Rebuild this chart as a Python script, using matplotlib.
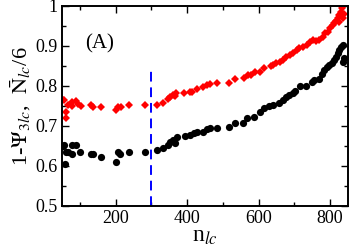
import matplotlib

matplotlib.use("Agg")

import matplotlib.pyplot as plt  # noqa: E402
from matplotlib.ticker import MultipleLocator  # noqa: E402

plt.rcParams["font.family"] = ["Liberation Serif", "DejaVu Serif"]
plt.rcParams["mathtext.fontset"] = "stix"

# red diamonds: 1 - psi_3lc
red_n = [51, 55, 61, 61, 66, 77, 77, 89, 95, 102, 130, 136, 158, 201, 207,
         215, 238, 283, 316, 331, 347, 353, 359, 365, 370, 391, 407, 414,
         428, 444, 455, 463, 483, 516, 533, 558, 570, 579, 591, 604, 616,
         635, 641, 649, 660, 667, 678, 688, 697, 706, 714, 725, 734, 744,
         751, 760, 770, 779, 786, 793, 800, 807, 812, 816, 821, 826, 826,
         830, 833, 837, 840, 836]
red_v = [0.767, 0.765, 0.736, 0.719, 0.752, 0.761, 0.750, 0.763, 0.755,
         0.751, 0.752, 0.747, 0.747, 0.740, 0.748, 0.747, 0.752, 0.752,
         0.752, 0.758, 0.767, 0.773, 0.777, 0.775, 0.782, 0.783, 0.786,
         0.786, 0.792, 0.798, 0.802, 0.805, 0.807, 0.808, 0.817, 0.819,
         0.8275, 0.8275, 0.836, 0.836, 0.844, 0.850, 0.853, 0.858, 0.861,
         0.865, 0.872, 0.8775, 0.883, 0.890, 0.894, 0.898, 0.9025, 0.911,
         0.915, 0.913, 0.915, 0.922, 0.932, 0.936, 0.944, 0.9525, 0.957,
         0.963, 0.969, 0.9775, 0.961, 0.986, 0.994, 1.0, 0.98, 0.969]

# black circles: N_lc / 6
blk_n = [52, 55, 58, 60, 66, 77, 77, 89, 100, 130, 136, 158, 200, 207, 212,
         238, 283, 316, 331, 347, 353, 359, 365, 371, 393, 407, 420, 428,
         444, 455, 465, 483, 516, 533, 557, 567, 588, 604, 616, 630, 639,
         658, 667, 676, 686, 695, 702, 716, 732, 749, 756, 769, 777, 783,
         790, 797, 805, 811, 817, 821, 826, 830, 835, 836, 840]
blk_v = [0.651, 0.652, 0.604, 0.636, 0.636, 0.652, 0.630, 0.652, 0.636,
         0.630, 0.630, 0.623, 0.611, 0.636, 0.630, 0.636, 0.636, 0.640,
         0.644, 0.652, 0.661, 0.665, 0.658, 0.672, 0.675, 0.6775, 0.682,
         0.686, 0.686, 0.692, 0.694, 0.694, 0.697, 0.707, 0.707, 0.720,
         0.723, 0.736, 0.744, 0.750, 0.7525, 0.758, 0.765, 0.772, 0.7775,
         0.783, 0.788, 0.800, 0.800, 0.811, 0.815, 0.817, 0.830, 0.840,
         0.847, 0.8525, 0.858, 0.865, 0.872, 0.882, 0.890, 0.898, 0.9025,
         0.861, 0.869]

n_cut = 300
cut_top = 0.84
y_ticks = [0.5, 0.6, 0.7, 0.8, 0.9, 1.0]
y_tick_labels = ["0.5", "0.6", "0.7", "0.8", "0.9", "1"]

fig = plt.figure(figsize=(3.49, 2.49), dpi=100)
ax = fig.add_axes([0.178, 0.173, 0.819, 0.803])

ax.plot(blk_n, blk_v, "o", color="black", markersize=5.2, markeredgewidth=0)
ax.plot(red_n, red_v, "D", color="#ff0000", markersize=4.0, markeredgewidth=0)
ax.plot([n_cut, n_cut], [0.5, cut_top], "--", color="#0000ff", lw=1.4,
        dashes=(5, 3))

ax.set_xlim(50, 850)
ax.set_ylim(0.5, 1.0)
ax.xaxis.set_major_locator(MultipleLocator(200))
ax.xaxis.set_minor_locator(MultipleLocator(100))
ax.yaxis.set_minor_locator(MultipleLocator(0.05))
ax.set_yticks(y_ticks)
ax.set_yticklabels(y_tick_labels)
ax.tick_params(which="both", direction="in", top=True, right=True,
               labelsize=13, width=1.0, pad=3)
ax.tick_params(which="major", length=5)
ax.tick_params(which="minor", length=3)
for s in ax.spines.values():
    s.set_linewidth(1.4)

ax.set_xlabel(r"n$_{lc}$", fontsize=17, labelpad=-1)
ax.set_ylabel(r"1-$\Psi_{3lc}$,  $\bar{\mathrm{N}}_{lc}$/6", fontsize=16,
              labelpad=2)
ax.text(156, 0.905, "(A)", fontsize=15, ha="center", va="center")

fig.savefig("out.png", dpi=100)
